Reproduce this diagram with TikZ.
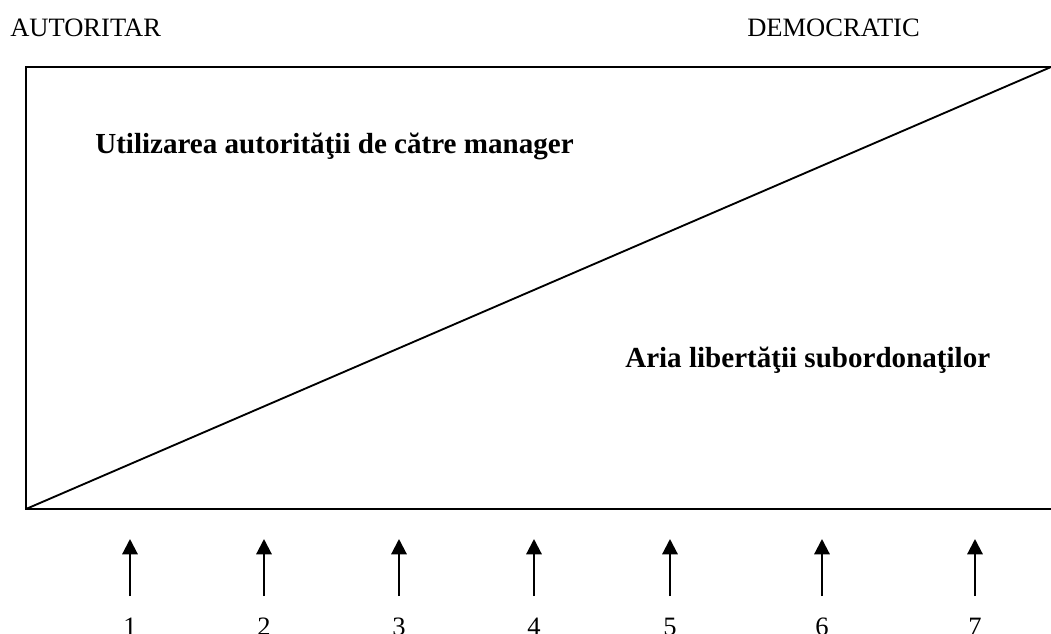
\documentclass[tikz,border=0pt]{standalone}
\usepackage{fontspec}
\setmainfont{Liberation Serif}
\usetikzlibrary{arrows.meta}
\begin{document}
\begin{tikzpicture}[x=0.75pt,y=-0.75pt,
  reg/.style={inner sep=0pt,font=\fontsize{19.9}{24}\selectfont},
  bld/.style={inner sep=0pt,font=\fontsize{21.8}{26}\selectfont\bfseries},
  frame/.style={line width=1.5pt},
  diag/.style={line width=1.4pt},
  arr/.style={line width=1.6pt,-{Triangle[length=11.5pt,width=11.5pt]}}]
\useasboundingbox (0,0) rectangle (1051,633);
\node[reg,anchor=base west] (aut) at (10,36) {AUTORITAR};
\node[reg,anchor=base east] (dem) at (920,36) {DEMOCRATIC};
\coordinate (tl) at (26,67);
\coordinate (bl) at (26,509);
\coordinate (tr) at (1051,67);
\coordinate (br) at (1051,509);
\draw[frame] (tr) -- (tl) -- (bl) -- (br);
\draw[diag] (bl) -- (tr);
\node[bld,anchor=base west] (util) at (95,153) {Utilizarea autorităţii de către manager};
\node[bld,anchor=base west] (aria) at (625,367) {Aria libertăţii subordonaţilor};
\foreach \i/\x in {1/130,2/264,3/399,4/534,5/670,6/822,7/975}{
  \coordinate (s\i) at (\x,596);
  \coordinate (t\i) at (\x,539);
  \draw[arr] (s\i) -- (t\i);
  \node[reg,anchor=base] (n\i) at (\x,635) {\i};
}
\end{tikzpicture}
\end{document}
